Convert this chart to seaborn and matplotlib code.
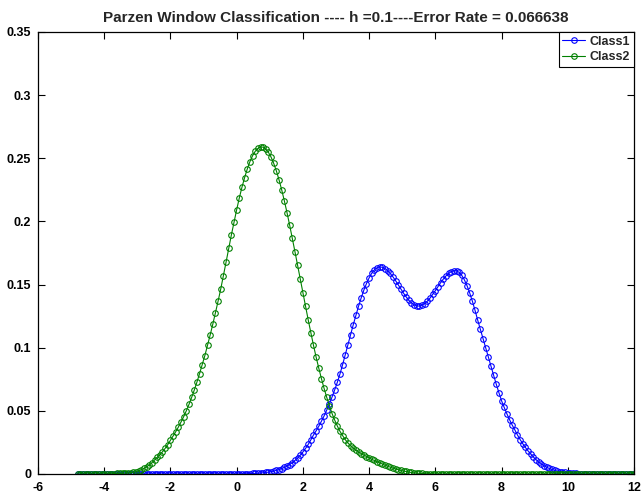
import numpy as np
import pandas as pd
import matplotlib
matplotlib.use("Agg")
import matplotlib.pyplot as plt
import seaborn as sns

# evaluation grid of the Parzen estimate: -4.8 .. 12 in steps of 0.08 (211 points)
x = np.round(-4.8 + 0.08 * np.arange(211), 2)

# Class1 density (blue)
class1 = [0.0] * 61 + [
    0.0001, 0.0001, 0.0002, 0.0002, 0.0003, 0.0004, 0.0005, 0.0006, 0.0008, 0.0010,
    0.0012, 0.0015, 0.0019, 0.0023, 0.0029, 0.0035, 0.0043, 0.0052, 0.0063, 0.0075,
    0.0090, 0.0107, 0.0126, 0.0149, 0.0174, 0.0202, 0.0234, 0.0270, 0.0309, 0.0342,
    0.0378, 0.0418, 0.0460, 0.0506, 0.0556, 0.0609, 0.0666, 0.0726, 0.0792, 0.0866,
    0.0945, 0.1024, 0.1104, 0.1181, 0.1256, 0.1328, 0.1394, 0.1455, 0.1508, 0.1553,
    0.1590, 0.1617, 0.1633, 0.1640, 0.1637, 0.1627, 0.1611, 0.1588, 0.1561, 0.1531,
    0.1498, 0.1464, 0.1432, 0.1402, 0.1375, 0.1354, 0.1340, 0.1331, 0.1330, 0.1337,
    0.1350, 0.1369, 0.1393, 0.1422, 0.1452, 0.1484, 0.1515, 0.1543, 0.1568, 0.1588,
    0.1602, 0.1609, 0.1610, 0.1596, 0.1572, 0.1536, 0.1489, 0.1432, 0.1367, 0.1295,
    0.1218, 0.1145, 0.1071, 0.0997, 0.0925, 0.0855, 0.0782, 0.0711, 0.0644, 0.0580,
    0.0527, 0.0477, 0.0431, 0.0388, 0.0350, 0.0309, 0.0273, 0.0240, 0.0210, 0.0183,
    0.0159, 0.0135, 0.0114, 0.0095, 0.0080, 0.0066, 0.0054, 0.0044, 0.0036, 0.0029,
    0.0024, 0.0019, 0.0015, 0.0012, 0.0009, 0.0007, 0.0005, 0.0004, 0.0003, 0.0002,
    0.0002, 0.0001,
] + [0.0] * 18

# Class2 density (green)
class2 = [0.0] * 10 + [
    0.0001, 0.0001, 0.0002, 0.0002, 0.0003, 0.0004, 0.0005, 0.0006, 0.0007, 0.0009,
    0.0011, 0.0014, 0.0018, 0.0025, 0.0033, 0.0044, 0.0056, 0.0071, 0.0089, 0.0111,
    0.0131, 0.0153, 0.0176, 0.0203, 0.0233, 0.0267, 0.0302, 0.0335, 0.0372, 0.0412,
    0.0454, 0.0501, 0.0551, 0.0606, 0.0665, 0.0728, 0.0795, 0.0866, 0.0938, 0.1018,
    0.1101, 0.1187, 0.1277, 0.1370, 0.1466, 0.1571, 0.1678, 0.1786, 0.1893, 0.1995,
    0.2093, 0.2186, 0.2271, 0.2347, 0.2415, 0.2473, 0.2520, 0.2555, 0.2578, 0.2590,
    0.2588, 0.2573, 0.2547, 0.2509, 0.2459, 0.2399, 0.2329, 0.2250, 0.2163, 0.2070,
    0.1971, 0.1867, 0.1761, 0.1653, 0.1544, 0.1435, 0.1327, 0.1221, 0.1119, 0.1019,
    0.0925, 0.0838, 0.0755, 0.0678, 0.0607, 0.0542, 0.0479, 0.0427, 0.0380, 0.0338,
    0.0304, 0.0272, 0.0246, 0.0224, 0.0205, 0.0189, 0.0175, 0.0161, 0.0150, 0.0138,
    0.0127, 0.0116, 0.0107, 0.0097, 0.0088, 0.0079, 0.0070, 0.0062, 0.0054, 0.0047,
    0.0040, 0.0034, 0.0028, 0.0023, 0.0020, 0.0015, 0.0012, 0.0009, 0.0007, 0.0005,
    0.0004, 0.0003, 0.0002, 0.0002, 0.0001, 0.0001,
] + [0.0] * 75

xticks = [-6, -4, -2, 0, 2, 4, 6, 8, 10, 12]
yticks = [0, 0.05, 0.1, 0.15, 0.2, 0.25, 0.3, 0.35]
ytick_labels = ["0", "0.05", "0.1", "0.15", "0.2", "0.25", "0.3", "0.35"]
title = "Parzen Window Classification ---- h =0.1----Error Rate = 0.066638"

df = pd.DataFrame({"x": x, "Class1": class1, "Class2": class2})

sns.set_style("ticks")
plt.rcParams["font.family"] = ["Liberation Sans", "DejaVu Sans"]
plt.rcParams["font.weight"] = "bold"
plt.rcParams["axes.unicode_minus"] = False

fig = plt.figure(figsize=(6.42, 4.95), dpi=100)
ax = fig.add_axes([38 / 642, 21 / 495, 596 / 642, 442 / 495])

style = dict(marker="o", markersize=4.0, markerfacecolor="none",
             markeredgewidth=0.8, linewidth=0.8, estimator=None, sort=False)
sns.lineplot(data=df, x="x", y="Class1", ax=ax, color="blue",
             markeredgecolor="blue", label="Class1", **style)
sns.lineplot(data=df, x="x", y="Class2", ax=ax, color=(0, 0.5, 0),
             markeredgecolor=(0, 0.5, 0), label="Class2", **style)

ax.set_xlim(-6, 12)
ax.set_ylim(0, 0.35)
ax.set_xticks(xticks)
ax.set_xticklabels([str(t) for t in xticks])
ax.set_yticks(yticks)
ax.set_yticklabels(ytick_labels)
ax.set_xlabel("")
ax.set_ylabel("")
ax.tick_params(direction="in", top=True, right=True, length=5, width=0.8,
               labelsize=9, colors="black")
ax.tick_params(axis="x", pad=6)
ax.tick_params(axis="y", pad=5)
for s in ax.spines.values():
    s.set_linewidth(0.9)
    s.set_color("black")

ax.set_title(title, fontsize=11, fontweight="bold", pad=7)
leg = ax.legend(loc="upper right", frameon=True, fancybox=False, framealpha=1,
                edgecolor="black", borderaxespad=0, handlelength=1.8,
                handletextpad=0.4, borderpad=0.3, labelspacing=0.3,
                prop={"size": 9, "weight": "bold"})
leg.get_frame().set_linewidth(0.8)

fig.savefig("out.png", dpi=100)
